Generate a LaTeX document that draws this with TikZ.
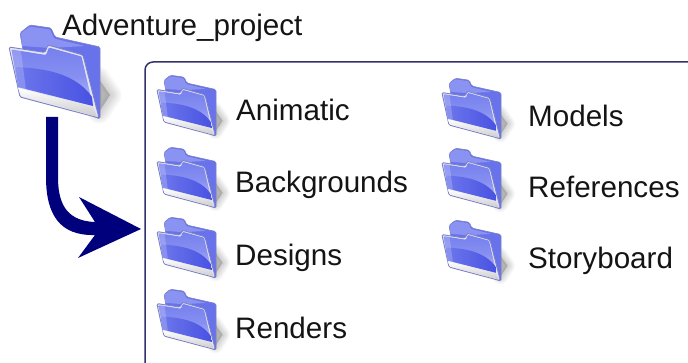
\documentclass[tikz,border=0pt]{standalone}
\usepackage{fontspec}
\setmainfont{Liberation Sans}
\definecolor{navy}{RGB}{0,0,125}
\definecolor{boxline}{RGB}{50,50,110}
\definecolor{fbback}{RGB}{104,114,234}
\definecolor{fbfront}{RGB}{72,82,226}
\definecolor{fbmid}{RGB}{118,128,238}
\definecolor{fblight}{RGB}{184,190,247}
\definecolor{frim}{RGB}{125,130,195}
\tikzset{
  label text/.style={font=\fontsize{29.6}{31}\selectfont, anchor=base west, inner sep=0pt, text=black!92},
  panel/.style={draw=boxline, line width=1.5pt, rounded corners=8pt},
  pics/folder/.style={code={
    % soft shadow: stacked translucent strokes
    \foreach \w in {3,7,11,15,19,23}{
      \filldraw[black, opacity=.03, line width={\w*#1*1pt}, line join=round]
        (98,78) -- (110,95) -- (99,112) -- cycle;
    }
    % back panel
    \fill[fbback, draw=frim, line width=.6pt, rounded corners=1.5pt]
      (20,33) -- (30,25) -- (51,28) -- (55,37) -- (100,47) -- (100,119) -- (30,90) -- cycle;
    \fill[fbmid!70!fblight, rounded corners=1pt]
      (21,33) -- (30,26.5) -- (50,29.5) -- (54,38.5) -- (85,46) -- (50,48) -- (22,46) -- cycle;
    % front panel
    \fill[white!82!fbback, draw=frim, line width=.9pt, rounded corners=1.5pt]
      (9,47) -- (45,52.5) -- (48,45) -- (83,55) -- (99,118) -- (20,97) -- cycle;
    % blue body
    \shade[top color=fbmid, bottom color=fblight, middle color=fbmid!75!fblight, rounded corners=1pt]
      (11.5,49.5) -- (46,55) -- (49,47.5) -- (81.5,56.5) -- (93,106) -- (18,87) -- cycle;
    % dark swoosh
    \shade[left color=fbmid!80!fbfront, right color=fbfront]
      (15.5,67) .. controls (40,68) and (75,72) .. (92,97) -- (93,106) -- (18,87) -- cycle;
    % left glass sheen
    \fill[white, opacity=.2] (11.5,49.5) -- (21,51) -- (26,90) -- (18,87) -- cycle;
    % grey strip
    \shade[top color=white, bottom color=black!20]
      (18,88) -- (93,107) -- (97,116.5) -- (21,96) -- cycle;
  }}
}
\begin{document}
\begin{tikzpicture}[x=1pt,y=-1pt]
\useasboundingbox (0,0) rectangle (688,363);
\clip (0,0) rectangle (688,363);
\fill[white] (0,0) rectangle (688,363);
% panel
\draw[panel] (700,62) -- (145,62) -- (145,380);
% big folder + title
\pic (root) at (0,0) {folder=1};
\node[label text] (title) at (62,36) {Adventure\_project};
% small folders
\pic[scale=.65] (fa) at (151,59) {folder=.65};
\pic[scale=.65] (fb) at (151,131) {folder=.65};
\pic[scale=.65] (fd) at (151,201) {folder=.65};
\pic[scale=.65] (fr) at (151,273) {folder=.65};
\pic[scale=.65] (fm) at (436,62) {folder=.65};
\pic[scale=.65] (fe) at (436,132) {folder=.65};
\pic[scale=.65] (fs) at (436,204) {folder=.65};
% labels
\node[label text] (animatic) at (236,121) {Animatic};
\node[label text] (backgrounds) at (235,193) {Backgrounds};
\node[label text] (designs) at (235,266) {Designs};
\node[label text] (renders) at (235,338) {Renders};
\node[label text] (models) at (528,127) {Models};
\node[label text] (references) at (528,198) {References};
\node[label text] (storyboard) at (528,269) {Storyboard};
% arrow
\fill[navy] (46,117) -- (58,117) -- (58,177)
  .. controls (58,200) and (64,221) .. (95,222)
  -- (79,197) -- (141,229) -- (78,258) -- (95,235)
  .. controls (60,236) and (46,215) .. (46,177) -- cycle;
\end{tikzpicture}
\end{document}
